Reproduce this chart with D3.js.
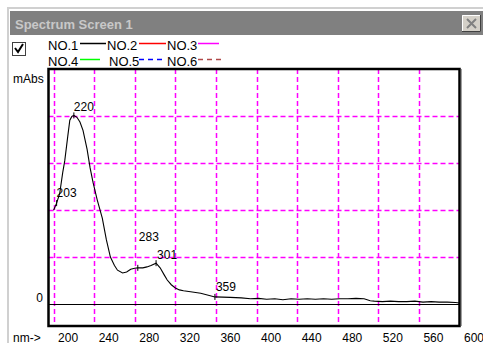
<!DOCTYPE html>
<html>
<head>
<meta charset="utf-8">
<script src="https://cdn.jsdelivr.net/npm/d3@7"></script>
<style>
  body { margin: 0; background: #fff; }
  svg { display: block; font-family: "Liberation Sans", Arial, sans-serif; }
</style>
</head>
<body>
<svg width="483" height="343"></svg>
<script>
// spectrum data (nm / mAbs)
var wavelengths = [200, 203, 206, 209, 211, 214, 216, 218, 220, 223, 226, 229, 233, 236, 239, 243, 248, 252, 256, 260,
  263, 268, 272, 276, 280, 283, 288, 292, 296, 301, 305, 309, 312, 316, 320, 324, 328, 335, 345, 359,
  374, 385, 394, 402, 410, 418, 426, 434, 442, 450, 458, 466, 474, 482, 490, 498, 506, 512, 516, 524,
  532, 540, 548, 556, 564, 572, 580, 588, 596, 600];
var absorbance = [200, 215, 235, 280, 305, 358, 392, 400, 402, 398, 388, 370, 330, 290, 258, 222, 183, 137, 100, 82,
  72, 66, 68, 74, 76, 77, 77, 79, 82, 87, 77, 62, 51, 41, 34, 30, 28, 26, 23, 15,
  14, 13, 11, 12, 10, 11, 9, 11, 10, 11, 10, 11, 10, 11, 11, 12, 11, 7, 6, 5,
  6, 5, 5, 6, 4, 5, 4, 4, 3, 2];
var peakNm = [203, 220, 283, 301, 359];
var xTicks = [200, 240, 280, 320, 360, 400, 440, 480, 520, 560, 600];
var yGrid = [100, 200, 300, 400];
var legendNames = ["NO.1", "NO.2", "NO.3", "NO.4", "NO.5", "NO.6"];
var legendColors = ["#000000", "#ff0000", "#ff00ff", "#00ff00", "#0000ff", "#b04848"];

// label placement next to each peak marker
var peakLabelOffset = { 203: [0, -6], 220: [0, -4], 283: [1, -27], 301: [1, -4], 359: [1, -6] };

var svg = d3.select("svg");
var plotL = 48.5, plotR = 459.5, plotT = 69, plotB = 326;

var x = d3.scaleLinear().domain([195, 600]).range([plotL, plotR]);
var y = d3.scaleLinear().domain([-47, 501]).range([plotB, plotT]);

// window frame + title bar
svg.append("rect").attr("x", 8).attr("y", 8).attr("width", 480).attr("height", 340)
  .attr("fill", "#fff").attr("stroke", "#d0d0d0").attr("stroke-width", 2);
svg.append("rect").attr("x", 10).attr("y", 11).attr("width", 473).attr("height", 24).attr("fill", "#808080");
svg.append("text").attr("x", 15).attr("y", 29).attr("fill", "#c8c8c8")
  .style("font-size", "13px").style("font-weight", "bold").text("Spectrum Screen 1");
var btn = svg.append("g").attr("transform", "translate(462,15)");
btn.append("rect").attr("width", 19).attr("height", 17).attr("fill", "#d4d0c8");
btn.append("path").attr("d", "M0.5,17V0.5H19").attr("fill", "none").attr("stroke", "#fff");
btn.append("path").attr("d", "M0,16.5H18.5V0").attr("fill", "none").attr("stroke", "#404040");
btn.append("path").attr("d", "M5,4L14,13M14,4L5,13").attr("stroke", "#808080").attr("stroke-width", 2);

// checkbox
svg.append("rect").attr("x", 12.5).attr("y", 42.5).attr("width", 13).attr("height", 13)
  .attr("fill", "#fff").attr("stroke", "#404040");
svg.append("path").attr("d", "M15,48L18,52L23,44").attr("fill", "none").attr("stroke", "#000").attr("stroke-width", 2);

// legend
var legend = svg.append("g").style("font-size", "13px");
legendNames.forEach(function(name, i) {
  var col = i % 3, row = Math.floor(i / 3);
  var lx = [48, 107, 167][col] + (i == 4 ? 2 : 0), ly = 50 + row * 16;
  legend.append("text").attr("x", lx).attr("y", ly).text(name);
  var len = [26, 27, 21, 20, 24, 25][i];
  var x0 = [80, 139, 198][col];
  legend.append("line").attr("x1", x0).attr("x2", x0 + len).attr("y1", ly - 6.5).attr("y2", ly - 6.5)
    .attr("stroke", legendColors[i]).attr("stroke-width", 1.5)
    .attr("stroke-dasharray", i >= 4 ? "5,4" : null);
});

// grid
var grid = svg.append("g").attr("stroke", "#ff00ff").attr("stroke-width", 1.5).attr("stroke-dasharray", "5,3");
grid.selectAll("line.v").data(xTicks.slice(0, -1)).enter().append("line")
  .attr("x1", function(d) { return Math.round(x(d)) + 0.5; })
  .attr("x2", function(d) { return Math.round(x(d)) + 0.5; })
  .attr("y1", plotT).attr("y2", plotB);
grid.selectAll("line.h").data(yGrid).enter().append("line")
  .attr("x1", plotL).attr("x2", plotR)
  .attr("y1", function(d) { return Math.round(y(d)) + 0.5; })
  .attr("y2", function(d) { return Math.round(y(d)) + 0.5; });

// zero line
svg.append("line").attr("x1", plotL).attr("x2", plotR)
  .attr("y1", Math.round(y(0)) + 0.5).attr("y2", Math.round(y(0)) + 0.5)
  .attr("stroke", "#000").attr("stroke-width", 1.2);

// spectrum
var pts = wavelengths.map(function(w, i) { return [w, absorbance[i]]; });
var line = d3.line().x(function(d) { return x(d[0]); }).y(function(d) { return y(d[1]); });
svg.append("path").datum(pts).attr("d", line).attr("fill", "none").attr("stroke", "#000").attr("stroke-width", 1.1);

// peak markers + labels
peakNm.forEach(function(p) {
  var v = absorbance[wavelengths.indexOf(p)];
  var px = x(p), py = y(v);
  svg.append("line").attr("x1", px).attr("x2", px).attr("y1", py - 3).attr("y2", py + 3)
    .attr("stroke", "#000").attr("stroke-width", 1);
  var off = peakLabelOffset[p];
  svg.append("text").attr("x", px + off[0]).attr("y", py + off[1]).style("font-size", "12px").text(p);
});

// frame
svg.append("line").attr("x1", plotR + 2).attr("x2", plotR + 2).attr("y1", plotT).attr("y2", plotB)
  .attr("stroke", "#a0a0a0").attr("stroke-width", 1);
svg.append("rect").attr("x", plotL).attr("y", plotT).attr("width", plotR - plotL).attr("height", plotB - plotT)
  .attr("fill", "none").attr("stroke", "#000").attr("stroke-width", 2.5);

// axis texts
var xAxis = d3.axisBottom(x).tickValues(xTicks).tickSize(0).tickFormat(d3.format("d"));
var xg = svg.append("g").attr("transform", "translate(0," + plotB + ")").call(xAxis);
xg.select(".domain").remove();
xg.selectAll("text").attr("text-anchor", "start").attr("dx", 4).attr("y", 7).attr("dy", "0.71em")
  .style("font-size", "12px").style("font-family", "Liberation Sans, Arial, sans-serif").attr("fill", "#000");

svg.append("text").attr("x", 13).attr("y", 342).style("font-size", "12px").text("nm->");
svg.append("text").attr("x", 13).attr("y", 83).style("font-size", "12px").text("mAbs");
svg.append("text").attr("x", 43).attr("y", y(0) - 2).attr("text-anchor", "end").style("font-size", "12px").text("0");
</script>
</body>
</html>
